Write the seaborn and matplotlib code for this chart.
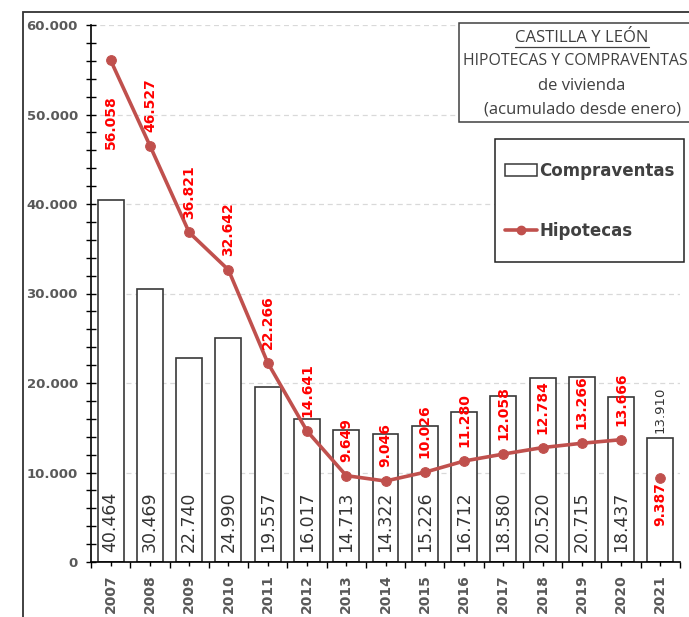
import matplotlib

matplotlib.use("Agg")
import matplotlib.pyplot as plt
import numpy as np
import pandas as pd
import seaborn as sns
from matplotlib.lines import Line2D
from matplotlib.patches import Patch, Rectangle
from matplotlib.ticker import FuncFormatter, MultipleLocator

YEARS = [str(y) for y in range(2007, 2022)]
COMPRAVENTAS = [40464, 30469, 22740, 24990, 19557, 16017, 14713, 14322,
                15226, 16712, 18580, 20520, 20715, 18437, 13910]
# hipotecas 2007-2020 (serie unida) y 2021 aparte
HIPOTECAS = [56058, 46527, 36821, 32642, 22266, 14641, 9649, 9046,
             10026, 11280, 12058, 12784, 13266, 13666]
HIPOTECAS_2021 = 9387

TITLE_LINES = ["CASTILLA Y LEÓN", "HIPOTECAS Y COMPRAVENTAS",
               "de vivienda", "(acumulado desde enero)"]

LINE_RED = "#C0504D"
LABEL_RED = "#FF0000"
GREY = "#383838"
AXIS_GREY = "#595959"
W, H = 689, 617


def fmt_es(v):
    return f"{v:,.0f}".replace(",", ".")


sns.set_theme(style="white")
plt.rcParams["font.family"] = ["DejaVu Sans"]

fig = plt.figure(figsize=(W / 100, H / 100), dpi=100)
ax = fig.add_axes([91 / W, 1 - 562 / H, (680 - 91) / W, (562 - 25) / H])

df = pd.DataFrame({"year": YEARS, "compraventas": COMPRAVENTAS})
sns.barplot(data=df, x="year", y="compraventas", color="white", saturation=1,
            edgecolor=GREY, linewidth=1.2, width=0.66, ax=ax, zorder=2)

x_line = np.arange(len(HIPOTECAS))
sns.lineplot(x=x_line, y=HIPOTECAS, color=LINE_RED, linewidth=2.6, marker="o",
             markersize=7, markeredgecolor=LINE_RED, ax=ax, zorder=4)
sns.scatterplot(x=[len(YEARS) - 1], y=[HIPOTECAS_2021], color=LINE_RED, s=50,
                edgecolor=LINE_RED, ax=ax, zorder=4)

# etiquetas de compraventas dentro de las barras
for i, v in enumerate(COMPRAVENTAS[:-1]):
    ax.text(i, 1150, fmt_es(v), rotation=90, ha="center", va="bottom",
            fontsize=12.5, color="#333333", zorder=5)
ax.annotate(fmt_es(COMPRAVENTAS[-1]), (len(YEARS) - 1, COMPRAVENTAS[-1]),
            xytext=(0, 3), textcoords="offset points", rotation=90,
            ha="center", va="bottom", fontsize=9.5, color="#333333")

# etiquetas de hipotecas
for i, v in enumerate(HIPOTECAS):
    if i == 0:
        off, va = -25, "top"
    else:
        off, va = 10, "bottom"
    ax.annotate(fmt_es(v), (i, v), xytext=(0, off), textcoords="offset points",
                rotation=90, ha="center", va=va, fontsize=10,
                fontweight="bold", color=LABEL_RED, zorder=6)
ax.annotate(fmt_es(HIPOTECAS_2021), (len(YEARS) - 1, HIPOTECAS_2021),
            xytext=(0, -3), textcoords="offset points", rotation=90,
            ha="center", va="top", fontsize=10, fontweight="bold",
            color=LABEL_RED, zorder=6)

ax.set_xlim(-0.5, len(YEARS) - 0.5)
ax.set_ylim(0, 60000)
ax.yaxis.set_major_locator(MultipleLocator(10000))
ax.yaxis.set_minor_locator(MultipleLocator(2000))
ax.yaxis.set_major_formatter(FuncFormatter(lambda v, _: fmt_es(v)))
ax.set_xticks(range(len(YEARS)))
ax.set_xticks(np.arange(-0.5, len(YEARS), 1), minor=True)
ax.set_xticklabels(YEARS, rotation=90, fontweight="bold")
for lab in ax.get_yticklabels():
    lab.set_fontweight("bold")

ax.tick_params(axis="y", which="both", direction="inout", length=7, width=1,
               color="black", labelsize=9.5, labelcolor=AXIS_GREY, pad=6, left=True)
ax.tick_params(axis="x", which="major", direction="inout", length=6, width=1,
               color="black", labelsize=10, labelcolor=AXIS_GREY, pad=6, bottom=True)
ax.tick_params(axis="x", which="minor", direction="out", length=4, width=1,
               color="black", bottom=True)

ax.set_xlabel("")
ax.set_ylabel("")
for side in ("top", "right"):
    ax.spines[side].set_visible(False)
for side in ("left", "bottom"):
    ax.spines[side].set_color("black")
    ax.spines[side].set_linewidth(1.2)

ax.set_axisbelow(True)
ax.yaxis.grid(True, which="major", linestyle=(0, (4, 3)), color="#D9D9D9",
              linewidth=0.9)
ax.xaxis.grid(False)

# marco del gráfico
fig.patches.append(Rectangle((23 / W, -0.1), 1.2, 1.1 - 12 / H,
                             transform=fig.transFigure, fill=False,
                             edgecolor="#333333", linewidth=1.3))

# cuadro del título
fig.patches.append(Rectangle((459 / W, 1 - 122 / H), 0.5, 99 / H,
                             transform=fig.transFigure, facecolor="white",
                             edgecolor="#404040", linewidth=1.1, zorder=10))
title_y = [38, 61, 86, 110]
title_x = [582, 575, 582, 582]
title_size = [12, 11.4, 12, 12]
title_texts = []
for line, x, y, fs in zip(TITLE_LINES, title_x, title_y, title_size):
    t = fig.text(x / W, 1 - y / H, line, ha="center", va="center",
                 fontsize=fs, color="#404040",
                 family=["Open Sans", "DejaVu Sans"], zorder=11)
    title_texts.append(t)

# leyenda: marco propio y entradas sin marco
fig.patches.append(Rectangle((495 / W, 1 - 262 / H), 189 / W, 123 / H,
                             transform=fig.transFigure, facecolor="white",
                             edgecolor="#222222", linewidth=1.1, zorder=10))
handles = [Patch(facecolor="white", edgecolor=GREY, linewidth=1.1),
           Line2D([], [], color=LINE_RED, linewidth=2.6, marker="o",
                  markersize=6)]
leg = fig.legend(handles, ["Compraventas", "Hipotecas"], loc="center",
                 bbox_to_anchor=(590 / W, 1 - 201 / H),
                 bbox_transform=fig.transFigure, frameon=False,
                 borderpad=0, borderaxespad=0, labelspacing=2.55,
                 handlelength=1.9, handletextpad=0.15,
                 prop={"size": 12, "weight": "bold", "family": "DejaVu Sans"})
leg.set_zorder(12)
for t in leg.get_texts():
    t.set_color("#404040")

# subrayado de la primera línea del título
fig.canvas.draw()
bb = title_texts[0].get_window_extent().transformed(fig.transFigure.inverted())
fig.add_artist(Line2D([bb.x0, bb.x1], [bb.y0 - 1 / H, bb.y0 - 1 / H],
                      transform=fig.transFigure, color="#404040", linewidth=0.9,
                      zorder=11))

fig.savefig("out.png", dpi=100)
plt.close(fig)
